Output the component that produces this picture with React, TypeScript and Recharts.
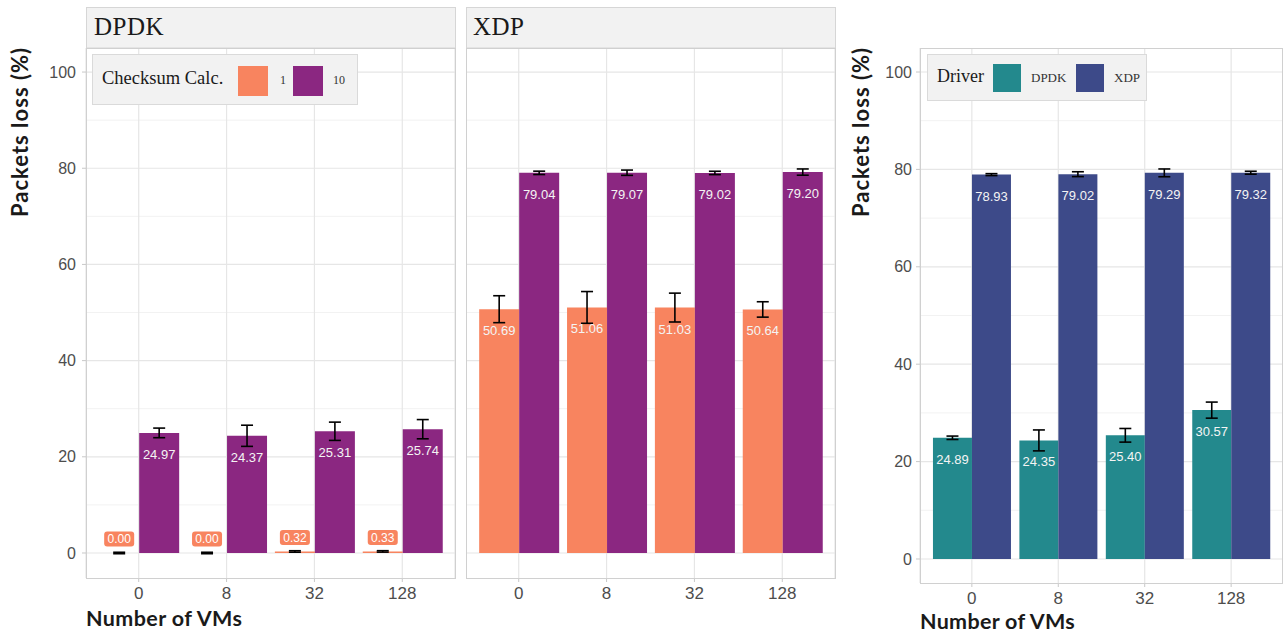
import React from 'react';
import { BarChart, Bar, XAxis, YAxis, CartesianGrid, ErrorBar, LabelList } from 'recharts';

// ---------- data ----------
const vmCounts = ['0', '8', '32', '128'];

const dpdkCk1 = [0.0, 0.0, 0.32, 0.33];
const dpdkCk1Err = [0.15, 0.15, 0.15, 0.15];
const dpdkCk10 = [24.97, 24.37, 25.31, 25.74];
const dpdkCk10Err = [1.0, 2.2, 1.9, 2.0];

const xdpCk1 = [50.69, 51.06, 51.03, 50.64];
const xdpCk1Err = [2.8, 3.3, 3.0, 1.6];
const xdpCk10 = [79.04, 79.07, 79.02, 79.2];
const xdpCk10Err = [0.35, 0.55, 0.35, 0.65];

const drvDpdk = [24.89, 24.35, 25.4, 30.57];
const drvDpdkErr = [0.35, 2.15, 1.4, 1.65];
const drvXdp = [78.93, 79.02, 79.29, 79.32];
const drvXdpErr = [0.2, 0.5, 0.8, 0.3];

const yTicks = [0, 20, 40, 60, 80, 100];
const yMinorTicks = [10, 30, 50, 70, 90];

const facetNames = ['DPDK', 'XDP'];
const checksumLegend = ['1', '10'];
const driverLegend = ['DPDK', 'XDP'];

const ORANGE = '#F8845F';
const PURPLE = '#8B2781';
const TEAL = '#23898D';
const NAVY = '#3D4A89';

const build = (a: number[], aErr: number[], b: number[], bErr: number[]) =>
  vmCounts.map((vm, i) => ({ vm, a: a[i], aErr: aErr[i], b: b[i], bErr: bErr[i] }));

const dpdkData = build(dpdkCk1, dpdkCk1Err, dpdkCk10, dpdkCk10Err);
const xdpData = build(xdpCk1, xdpCk1Err, xdpCk10, xdpCk10Err);
const driverData = build(drvDpdk, drvDpdkErr, drvXdp, drvXdpErr);

const SANS = '"Liberation Sans", Arial, sans-serif';
const TITLE = 'Lato, "Open Sans", sans-serif';
const SERIF = '"Liberation Serif", "DejaVu Serif", serif';

// keep zero-valued bars in the layout (so their label and error dash are drawn) with a hairline height
const zeroKeep = (value: any) => (Number(value) === 0 ? 0.01 : 0);

const makeLabel = (fill: string, boxSmall: boolean) => (props: any) => {
  const { x, y, width, height, value } = props;
  const v = Number(value);
  const cx = Number(x) + Number(width) / 2;
  const txt = v.toFixed(2);
  if (boxSmall && v < 5) {
    const base = Number(y) + (Number(height) < 0 ? Number(height) : 0);
    const cy = base - 14;
    return (
      <g>
        <rect x={cx - 15} y={cy - 7.5} width={30} height={15} rx={3} ry={3} fill={fill} />
        <text x={cx} y={cy + 4.3} textAnchor="middle" fill="#FFFFFF" fontSize={12} fontFamily={SANS}>
          {txt}
        </text>
      </g>
    );
  }
  return (
    <text x={cx} y={Number(y) + 26} textAnchor="middle" fill="#F4F4F4" fontSize={13} fontFamily={SANS}>
      {txt}
    </text>
  );
};

type PanelProps = {
  left: number;
  top: number;
  width: number;
  height: number;
  yAxisWidth: number;
  domain: [number, number];
  data: any[];
  colors: [string, string];
  smallBox: boolean;
  tickMarginY: number;
};

const Panel = (p: PanelProps) => {
  const pad = p.width / 42;
  const xAxisH = 34;
  return (
    <div style={{ position: 'absolute', left: p.left - p.yAxisWidth, top: p.top }}>
      <BarChart
        width={p.width + p.yAxisWidth}
        height={p.height + xAxisH}
        data={p.data}
        margin={{ top: 0, right: 0, bottom: 0, left: 0 }}
        barCategoryGap="5%"
        barGap={0}
      >
        <CartesianGrid horizontalValues={yMinorTicks} vertical={false} stroke="#F2F2F2" strokeWidth={1} />
        <CartesianGrid horizontalValues={yTicks} stroke="#E6E6E6" strokeWidth={1.2} />
        <XAxis
          dataKey="vm"
          type="category"
          padding={{ left: pad, right: pad }}
          axisLine={false}
          tickLine={{ stroke: '#C8C8C8' }}
          tickSize={4}
          tickMargin={5}
          height={xAxisH}
          tick={{ fill: '#4D4D4D', fontSize: 17, fontFamily: SANS }}
          interval={0}
        />
        <YAxis
          type="number"
          domain={p.domain}
          allowDataOverflow
          ticks={yTicks}
          hide={p.yAxisWidth === 0}
          width={p.yAxisWidth}
          axisLine={false}
          tickLine={{ stroke: '#C8C8C8' }}
          tickSize={4}
          tickMargin={p.tickMarginY}
          tick={{ fill: '#4D4D4D', fontSize: 16, fontFamily: SANS }}
        />
        <Bar dataKey="a" fill={p.colors[0]} isAnimationActive={false} minPointSize={zeroKeep}>
          <ErrorBar dataKey="aErr" width={6} stroke="#000000" strokeWidth={1.6} direction="y" />
          <LabelList dataKey="a" content={makeLabel(p.colors[0], p.smallBox)} />
        </Bar>
        <Bar dataKey="b" fill={p.colors[1]} isAnimationActive={false}>
          <ErrorBar dataKey="bErr" width={6} stroke="#000000" strokeWidth={1.6} direction="y" />
          <LabelList dataKey="b" content={makeLabel(p.colors[1], p.smallBox)} />
        </Bar>
      </BarChart>
    </div>
  );
};

const keyBox = (left: number, top: number, size: number, color: string) => (
  <div style={{ position: 'absolute', left, top, width: size, height: size, background: color }} />
);

export default function App() {
  return (
    <div
      style={{
        position: 'absolute',
        left: 0,
        top: 0,
        width: 1285,
        height: 634,
        background: '#FFFFFF',
        overflow: 'hidden',
      }}
    >
      <Panel
        left={86}
        top={48}
        width={369}
        height={530}
        yAxisWidth={86}
        domain={[-5.2, 105]}
        data={dpdkData}
        colors={[ORANGE, PURPLE]}
        smallBox
        tickMarginY={6}
      />
      <Panel
        left={466}
        top={48}
        width={369}
        height={530}
        yAxisWidth={0}
        domain={[-5.2, 105]}
        data={xdpData}
        colors={[ORANGE, PURPLE]}
        smallBox={false}
        tickMarginY={6}
      />
      <Panel
        left={920}
        top={48}
        width={363}
        height={535}
        yAxisWidth={70}
        domain={[-4.93, 104.93]}
        data={driverData}
        colors={[TEAL, NAVY]}
        smallBox={false}
        tickMarginY={4}
      />

      <svg
        width={1285}
        height={634}
        style={{ position: 'absolute', left: 0, top: 0, pointerEvents: 'none' }}
      >
        {/* strips */}
        <rect x={86.5} y={7.5} width={369} height={40.5} fill="#F2F2F2" stroke="#D6D6D6" />
        <rect x={466.5} y={7.5} width={369} height={40.5} fill="#F2F2F2" stroke="#D6D6D6" />
        <text x={94} y={35} fontSize={25} fontFamily={SERIF} fill="#1A1A1A" letterSpacing={0.5}>
          {facetNames[0]}
        </text>
        <text x={473} y={35} fontSize={25} fontFamily={SERIF} fill="#1A1A1A" letterSpacing={0.5}>
          {facetNames[1]}
        </text>
        {/* panel borders */}
        <rect x={86.5} y={48.5} width={369} height={530} fill="none" stroke="#D0D0D0" />
        <rect x={466.5} y={48.5} width={369} height={530} fill="none" stroke="#D0D0D0" />
        <rect x={920.5} y={48.5} width={362} height={535} fill="none" stroke="#D0D0D0" />

        {/* axis titles */}
        <text
          x={28}
          y={47}
          transform="rotate(-90 28 47)"
          textAnchor="end"
          fontSize={22}
          fontWeight={700}
          fontFamily={TITLE}
          fill="#1A1A1A"
          letterSpacing={1}
        >
          Packets loss (%)
        </text>
        <text x={86} y={626} fontSize={21.5} fontWeight={700} fontFamily={TITLE} fill="#1A1A1A" letterSpacing={0.4}>
          Number of VMs
        </text>
        <text
          x={869}
          y={47}
          transform="rotate(-90 869 47)"
          textAnchor="end"
          fontSize={22}
          fontWeight={700}
          fontFamily={TITLE}
          fill="#1A1A1A"
          letterSpacing={1}
        >
          Packets loss (%)
        </text>
        <text x={920} y={629} fontSize={21.5} fontWeight={700} fontFamily={TITLE} fill="#1A1A1A" letterSpacing={0.3}>
          Number of VMs
        </text>
      </svg>

      {/* legend: checksum */}
      <div
        style={{
          position: 'absolute',
          left: 92,
          top: 54,
          width: 266,
          height: 51,
          background: '#F2F2F2',
          border: '1px solid #DADADA',
          boxSizing: 'border-box',
        }}
      >
        <span
          style={{ position: 'absolute', left: 9, top: 13, fontFamily: SERIF, fontSize: 18.5, color: '#1A1A1A', whiteSpace: 'nowrap' }}
        >
          Checksum Calc.
        </span>
        {keyBox(145, 11, 30, ORANGE)}
        <span style={{ position: 'absolute', left: 187, top: 18, fontFamily: SERIF, fontSize: 12, color: '#333' }}>
          {checksumLegend[0]}
        </span>
        {keyBox(200, 11, 30, PURPLE)}
        <span style={{ position: 'absolute', left: 240, top: 18, fontFamily: SERIF, fontSize: 12, color: '#333' }}>
          {checksumLegend[1]}
        </span>
      </div>

      {/* legend: driver */}
      <div
        style={{
          position: 'absolute',
          left: 927,
          top: 54,
          width: 220,
          height: 47,
          background: '#F2F2F2',
          border: '1px solid #DADADA',
          boxSizing: 'border-box',
        }}
      >
        <span
          style={{ position: 'absolute', left: 9, top: 11, fontFamily: SERIF, fontSize: 18, color: '#1A1A1A', whiteSpace: 'nowrap' }}
        >
          Driver
        </span>
        {keyBox(65, 9, 28, TEAL)}
        <span style={{ position: 'absolute', left: 103, top: 15, fontFamily: SERIF, fontSize: 13, color: '#333' }}>
          {driverLegend[0]}
        </span>
        {keyBox(148, 9, 28, NAVY)}
        <span style={{ position: 'absolute', left: 186, top: 15, fontFamily: SERIF, fontSize: 13, color: '#333' }}>
          {driverLegend[1]}
        </span>
      </div>
    </div>
  );
}
